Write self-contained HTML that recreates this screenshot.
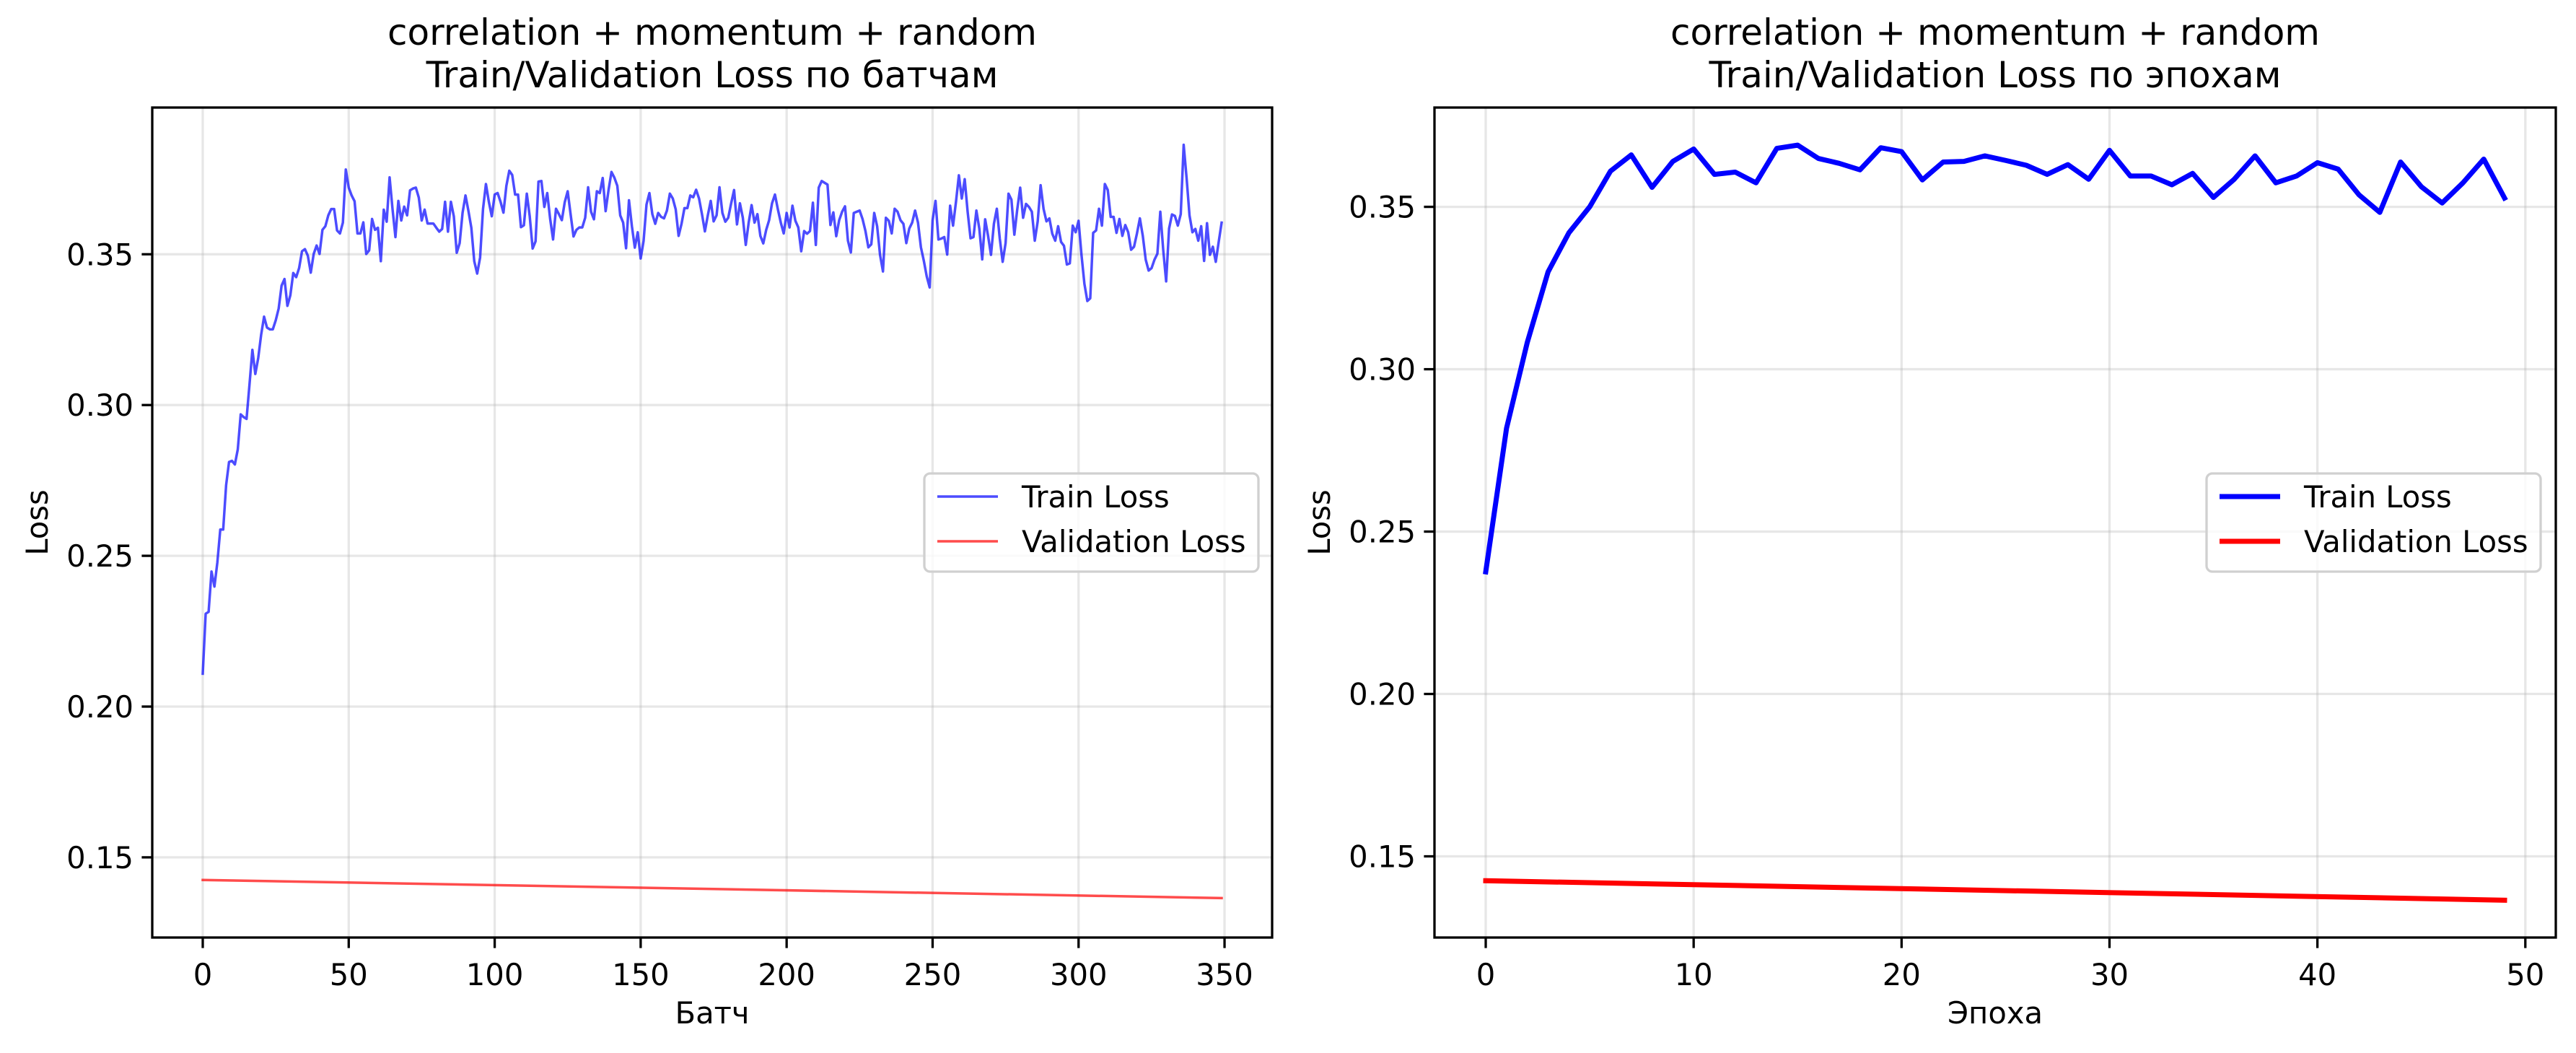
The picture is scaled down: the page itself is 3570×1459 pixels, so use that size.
<!DOCTYPE html>
<html><head><meta charset="utf-8"><style>
html,body{margin:0;padding:0;background:#fff}
svg{display:block}
text{font-family:"DejaVu Sans","Liberation Sans",sans-serif;fill:#000}
</style></head><body>
<svg id="fig" width="3570" height="1459" viewBox="0 0 3570 1459" xmlns="http://www.w3.org/2000/svg"></svg>
<script>
const batchTrain=[0.2109,0.2308,0.2314,0.2448,0.2398,0.2478,0.2587,0.2587,0.2734,0.2811,0.2815,0.2803,0.2853,0.2969,0.296,0.2954,0.3067,0.3183,0.3103,0.3156,
0.3233,0.3293,0.3257,0.3251,0.3251,0.3281,0.332,0.3396,0.3418,0.3329,0.3364,0.3438,0.3424,0.3454,0.351,0.3517,0.3495,0.3439,0.3501,0.3529,
0.3501,0.3581,0.3593,0.3629,0.365,0.365,0.3579,0.3569,0.3605,0.3781,0.3721,0.3695,0.3676,0.3569,0.3569,0.3606,0.3501,0.3513,0.3617,0.3581,
0.3588,0.3477,0.3648,0.3608,0.3755,0.365,0.3557,0.3677,0.3612,0.3658,0.3629,0.3712,0.3718,0.3721,0.3688,0.3612,0.3648,0.3602,0.3602,0.3602,
0.3588,0.3575,0.3584,0.3674,0.3575,0.3674,0.3626,0.3505,0.3537,0.3638,0.3695,0.3644,0.3588,0.3477,0.3436,0.3489,0.365,0.3733,0.3674,0.3626,
0.3698,0.3703,0.3674,0.3638,0.3727,0.3777,0.3763,0.3698,0.3698,0.359,0.3596,0.3701,0.3626,0.3519,0.3543,0.3741,0.3743,0.3657,0.3703,0.3617,
0.3549,0.3651,0.3633,0.3613,0.3673,0.3709,0.3633,0.3559,0.3581,0.3589,0.3589,0.3621,0.3722,0.3641,0.3616,0.3709,0.3703,0.3753,0.3643,0.3713,
0.3773,0.3754,0.3727,0.3629,0.3605,0.352,0.3679,0.3593,0.3522,0.3573,0.3486,0.3544,0.3665,0.3703,0.3633,0.3601,0.3637,0.3624,0.3619,0.3645,
0.3701,0.3685,0.3649,0.3561,0.3601,0.3653,0.3653,0.3695,0.3689,0.3714,0.3685,0.3633,0.3576,0.3629,0.3677,0.3609,0.3629,0.3722,0.3637,0.3608,
0.3621,0.3669,0.3713,0.3599,0.3669,0.3621,0.3531,0.3605,0.3663,0.3605,0.3633,0.3561,0.3536,0.3581,0.3613,0.3669,0.3698,0.3649,0.3605,0.3569,
0.3637,0.3589,0.3661,0.3611,0.3589,0.351,0.3577,0.3568,0.3577,0.3671,0.3531,0.3721,0.3743,0.3737,0.3731,0.3597,0.3639,0.356,0.3613,0.3641,
0.3659,0.3545,0.3506,0.3637,0.3641,0.3645,0.3617,0.3577,0.3523,0.3533,0.3637,0.3593,0.3498,0.3443,0.3621,0.3611,0.3569,0.3651,0.3641,0.3613,
0.3601,0.3537,0.3585,0.3605,0.3645,0.3605,0.3523,0.3478,0.3426,0.339,0.3613,0.3677,0.3549,0.3552,0.3557,0.3499,0.3661,0.3595,0.3673,0.3762,
0.3685,0.3749,0.3641,0.3553,0.3557,0.3645,0.3585,0.3483,0.3616,0.3561,0.3498,0.3601,0.3651,0.3553,0.3475,0.3537,0.3701,0.3681,0.3565,0.3649,
0.3721,0.3621,0.3667,0.3657,0.3641,0.3545,0.3609,0.3729,0.3651,0.3609,0.3619,0.3568,0.3545,0.3593,0.3541,0.3528,0.3466,0.347,0.3595,0.3573,
0.3611,0.3498,0.3402,0.3345,0.3354,0.3571,0.3579,0.3651,0.3595,0.3733,0.3713,0.3624,0.3624,0.3571,0.3617,0.3561,0.3597,0.3573,0.3515,0.3525,
0.3569,0.3619,0.3561,0.3482,0.3446,0.3454,0.3482,0.3502,0.3641,0.3514,0.341,0.3585,0.3632,0.3627,0.3595,0.3633,0.3863,0.3753,0.3629,0.3573,
0.3584,0.3545,0.3593,0.3478,0.3603,0.3498,0.3525,0.3475,0.3541,0.3605];
const valBatchX=[0,349];
const valBatch=[0.1425,0.1365];
const epochTrain=[0.2376,0.2818,0.3083,0.330,0.342,0.350,0.361,0.366,0.356,0.364,0.3678,0.360,0.3607,0.3574,0.368,0.369,0.3649,0.3634,0.3614,0.3682,
0.367,0.3583,0.3638,0.364,0.3657,0.3643,0.3628,0.360,0.363,0.3585,0.3674,0.3595,0.3595,0.3568,0.3603,0.3529,0.3585,0.3657,0.3574,0.3595,
0.3636,0.3616,0.3537,0.3483,0.3638,0.3562,0.3512,0.3574,0.3647,0.3527];
const valEpochX=[0,49];
const valEpoch=[0.1425,0.1365];
const leftXTicks=[0,50,100,150,200,250,300,350];
const rightXTicks=[0,10,20,30,40,50];
const yTicks=[0.15,0.20,0.25,0.30,0.35];

const NS="http://www.w3.org/2000/svg";
const svg=document.getElementById('fig');
function el(tag,attrs,parent,txt){const e=document.createElementNS(NS,tag);for(const k in attrs)e.setAttribute(k,attrs[k]);if(txt!==undefined)e.textContent=txt;(parent||svg).appendChild(e);return e;}

function panel(cfg){
  const g=el('g',{});
  
  
  const X=v=>cfg.x0+(v-cfg.xmin)*(cfg.x1-cfg.x0)/(cfg.xmax-cfg.xmin);
  const Y=v=>cfg.y1-(v-cfg.ymin)*(cfg.y1-cfg.y0)/(cfg.ymax-cfg.ymin);
  cfg.xt.forEach(t=>{const l=el('line',{x1:X(t),x2:X(t),y1:cfg.y0,y2:cfg.y1,stroke:'#b0b0b0','stroke-opacity':0.3,'stroke-width':3.3},g);
    });
  yTicks.forEach(t=>{const l=el('line',{x1:cfg.x0,x2:cfg.x1,y1:Y(t),y2:Y(t),stroke:'#b0b0b0','stroke-opacity':0.3,'stroke-width':3.3},g);
    });
  const tp=cfg.train.map((v,i)=>X(i).toFixed(2)+','+Y(v).toFixed(2)).join(' ');
  const tl=el('polyline',{points:tp,fill:'none',stroke:cfg.tc,'stroke-opacity':cfg.op,'stroke-width':cfg.lw,'stroke-linejoin':'round','stroke-linecap':'square'},g);
  
  const vp=cfg.val.map((v,i)=>X(cfg.valX[i]).toFixed(2)+','+Y(v).toFixed(2)).join(' ');
  const vl=el('polyline',{points:vp,fill:'none',stroke:cfg.vc,'stroke-opacity':cfg.op,'stroke-width':cfg.lw,'stroke-linecap':'square'},g);
  
  const r=el('rect',{x:cfg.x0,y:cfg.y0,width:cfg.x1-cfg.x0,height:cfg.y1-cfg.y0,fill:'none',stroke:'#000','stroke-width':3.3},g);
  
  cfg.xt.forEach(t=>{el('line',{x1:X(t),x2:X(t),y1:cfg.y1,y2:cfg.y1+14.6,stroke:'#000','stroke-width':3.3},g);
    const tx=el('text',{x:X(t),y:cfg.y1+66,'text-anchor':'middle','font-size':41.7},g,String(t));
    });
  yTicks.forEach(t=>{el('line',{x1:cfg.x0-14.6,x2:cfg.x0,y1:Y(t),y2:Y(t),stroke:'#000','stroke-width':3.3},g);
    const tx=el('text',{x:cfg.x0-26,y:Y(t)+15,'text-anchor':'end','font-size':41.7},g,t.toFixed(2));
    });
  const cx=(cfg.x0+cfg.x1)/2;
  const xl=el('text',{x:cx,y:1418,'text-anchor':'middle','font-size':41.7},g,cfg.xlabel);
  
  const yl=el('text',{x:0,y:0,'text-anchor':'middle','font-size':41.7,transform:`translate(${cfg.x0-145},${(cfg.y0+cfg.y1)/2}) rotate(-90)`},g,'Loss');
  
  const t1=el('text',{x:cx,y:62,'text-anchor':'middle','font-size':50},g,'correlation + momentum + random');
  
  const t2=el('text',{x:cx,y:121,'text-anchor':'middle','font-size':50},g,cfg.sub);
  
  const lg=el('g',{},g);
  
  el('rect',{x:cfg.lx,y:656,width:cfg.lw2,height:136,rx:8,fill:'#fff','fill-opacity':0.8,stroke:'#d0d0d0','stroke-width':3.3},lg);
  [[cfg.tc,'Train Loss',688],[cfg.vc,'Validation Loss',750]].forEach(([c,s,yy])=>{
    const e=el('g',{},lg);
    
    el('line',{x1:cfg.lx+18,x2:cfg.lx+102,y1:yy,y2:yy,stroke:c,'stroke-opacity':cfg.op,'stroke-width':cfg.lw},e);
    el('text',{x:cfg.lx+135,y:yy+15,'font-size':41.7},e,s);
  });
}
panel({name:'batch-loss-chart',x0:211,x1:1763,y0:149,y1:1299,xmin:-17.3,xmax:366.3,ymin:0.12341,ymax:0.39866,
  xt:leftXTicks,train:batchTrain,val:valBatch,valX:valBatchX,tc:'#0000ff',vc:'#ff0000',op:0.7,lw:3.5,
  xlabel:'Батч',sub:'Train/Validation Loss по батчам',lx:1281,lw2:463});
panel({name:'epoch-loss-chart',x0:1988,x1:3542,y0:149,y1:1299,xmin:-2.465,xmax:51.465,ymin:0.125,ymax:0.38058,
  xt:rightXTicks,train:epochTrain,val:valEpoch,valX:valEpochX,tc:'#0000ff',vc:'#ff0000',op:1,lw:7,
  xlabel:'Эпоха',sub:'Train/Validation Loss по эпохам',lx:3058,lw2:463});
</script>
</body></html>
